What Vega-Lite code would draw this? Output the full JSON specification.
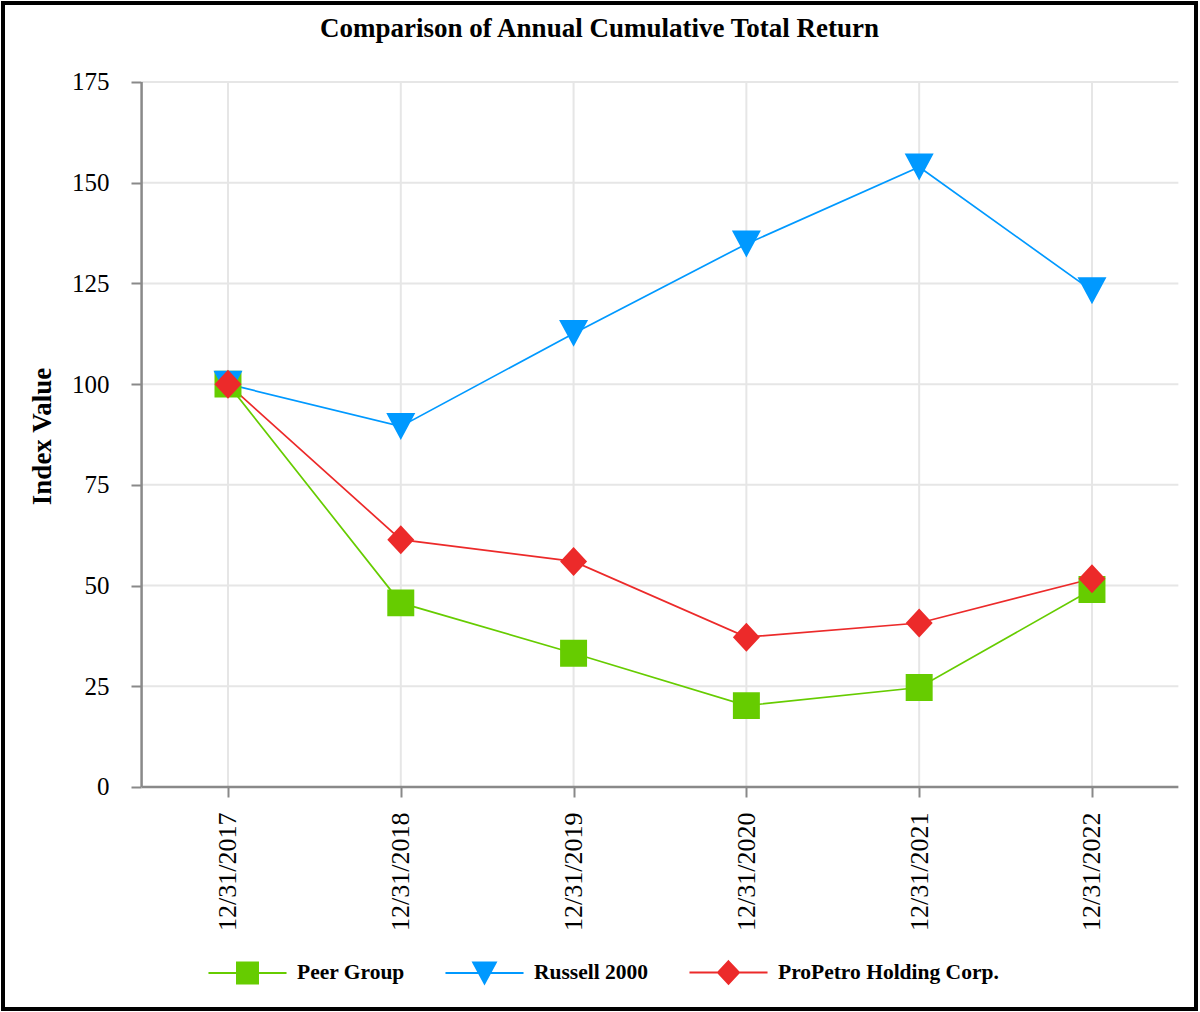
{
  "$schema": "https://vega.github.io/schema/vega-lite/v6.json",
  "width": 1193,
  "height": 1006,
  "autosize": {"type": "none"},
  "padding": {"left": 3, "top": 3, "right": 4, "bottom": 3},
  "background": "white",
  "config": {
    "view": {"stroke": "#000000", "strokeWidth": 4},
    "font": "Liberation Serif"
  },
  "title": {
    "text": "Comparison of Annual Cumulative Total Return",
    "font": "Liberation Serif",
    "fontSize": 27,
    "fontWeight": "bold",
    "color": "#000000",
    "anchor": "middle",
    "frame": "group",
    "baseline": "alphabetic",
    "offset": -36,
    "dy": 25
  },
  "datasets": {
    "returns": [
      {"series": "Peer Group", "year": 2017, "value": 100},
      {"series": "Peer Group", "year": 2018, "value": 45.7},
      {"series": "Peer Group", "year": 2019, "value": 33.2},
      {"series": "Peer Group", "year": 2020, "value": 20.2},
      {"series": "Peer Group", "year": 2021, "value": 24.7},
      {"series": "Peer Group", "year": 2022, "value": 49.0},
      {"series": "Russell 2000", "year": 2017, "value": 100},
      {"series": "Russell 2000", "year": 2018, "value": 89.5},
      {"series": "Russell 2000", "year": 2019, "value": 112.6},
      {"series": "Russell 2000", "year": 2020, "value": 134.8},
      {"series": "Russell 2000", "year": 2021, "value": 153.9},
      {"series": "Russell 2000", "year": 2022, "value": 123.2},
      {"series": "ProPetro Holding Corp.", "year": 2017, "value": 100},
      {"series": "ProPetro Holding Corp.", "year": 2018, "value": 61.4},
      {"series": "ProPetro Holding Corp.", "year": 2019, "value": 56.0},
      {"series": "ProPetro Holding Corp.", "year": 2020, "value": 37.2},
      {"series": "ProPetro Holding Corp.", "year": 2021, "value": 40.7},
      {"series": "ProPetro Holding Corp.", "year": 2022, "value": 51.7}
    ],
    "hgrid": [{"v": 25}, {"v": 50}, {"v": 75}, {"v": 100}, {"v": 125}, {"v": 150}, {"v": 175}],
    "vgrid": [{"year": 2017}, {"year": 2018}, {"year": 2019}, {"year": 2020}, {"year": 2021}, {"year": 2022}],
    "one": [{}]
  },
  "layer": [
    {
      "data": {"name": "hgrid"},
      "mark": {"type": "rule", "color": "#e6e6e6", "strokeWidth": 2},
      "encoding": {
        "y": {
          "field": "v", "type": "quantitative",
          "scale": {"domain": [-55.11, 194.61], "nice": false, "zero": false},
          "axis": {
            "values": [0, 25, 50, 75, 100, 125, 150, 175],
            "grid": false, "domain": false, "offset": -138,
            "tickSize": 10, "tickColor": "#898989", "tickWidth": 2,
            "labelFont": "Liberation Serif", "labelFontSize": 25, "labelColor": "#000000",
            "labelPadding": 22, "labelFlush": false, "labelOverlap": false,
            "title": "Index Value", "titleFont": "Liberation Serif", "titleFontSize": 27,
            "titleFontWeight": "bold", "titleColor": "#000000", "titleAngle": 270,
            "titleAlign": "center", "titleBaseline": "middle", "titleX": -99, "titleY": 433
          }
        },
        "x": {
          "datum": 2016.5, "type": "quantitative",
          "scale": {"domain": [2015.698, 2022.602], "nice": false, "zero": false},
          "axis": {
            "values": [2017, 2018, 2019, 2020, 2021, 2022],
            "grid": false, "domain": false, "offset": -222,
            "tickSize": 10, "tickColor": "#898989", "tickWidth": 2,
            "labelAngle": 270, "labelFont": "Liberation Serif", "labelFontSize": 26,
            "labelColor": "#000000", "labelPadding": 15, "labelFlush": false, "labelOverlap": false,
            "labelExpr": "'12/31/' + datum.value",
            "title": null
          }
        },
        "x2": {"datum": 2022.5}
      }
    },
    {
      "data": {"name": "vgrid"},
      "mark": {"type": "rule", "color": "#e6e6e6", "strokeWidth": 2},
      "encoding": {
        "x": {"field": "year", "type": "quantitative"},
        "y": {"datum": 0, "type": "quantitative"},
        "y2": {"datum": 175}
      }
    },
    {
      "data": {"name": "one"},
      "mark": {"type": "rule", "color": "#898989", "strokeWidth": 2.5},
      "encoding": {
        "x": {"datum": 2016.5, "type": "quantitative"},
        "y": {"datum": 0, "type": "quantitative"},
        "y2": {"datum": 175}
      }
    },
    {
      "data": {"name": "one"},
      "mark": {"type": "rule", "color": "#898989", "strokeWidth": 2.5},
      "encoding": {
        "y": {"datum": 0, "type": "quantitative"},
        "x": {"datum": 2016.5, "type": "quantitative"},
        "x2": {"datum": 2022.5}
      }
    },
    {
      "data": {"name": "returns"},
      "mark": {"type": "line", "strokeWidth": 1.7},
      "encoding": {
        "x": {"field": "year", "type": "quantitative"},
        "y": {"field": "value", "type": "quantitative"},
        "color": {
          "field": "series", "type": "nominal",
          "scale": {
            "domain": ["Peer Group", "Russell 2000", "ProPetro Holding Corp."],
            "range": ["#66CC00", "#0099FF", "#EC2A2A"]
          }
        }
      }
    },
    {
      "data": {"name": "returns"},
      "mark": {"type": "point", "filled": true, "opacity": 1, "size": 841},
      "encoding": {
        "x": {"field": "year", "type": "quantitative"},
        "y": {"field": "value", "type": "quantitative"},
        "shape": {
          "field": "series", "type": "nominal",
          "scale": {
            "domain": ["Peer Group", "Russell 2000", "ProPetro Holding Corp."],
            "range": [
              "M-3.46,0H3.46M-0.93,-0.93H0.93V0.93H-0.93Z",
              "M-3.46,0H3.46M-1,-0.93H1L0,0.93Z",
              "M-3.46,0H3.46M0,-1L0.93,0L0,1L-0.93,0Z"
            ]
          },
          "legend": null
        },
        "color": {
          "field": "series", "type": "nominal",
          "scale": {
            "domain": ["Peer Group", "Russell 2000", "ProPetro Holding Corp."],
            "range": ["#66CC00", "#0099FF", "#EC2A2A"]
          },
          "legend": {
            "title": null,
            "orient": "none",
            "legendX": 232,
            "legendY": 957,
            "direction": "horizontal",
            "columns": 3,
            "padding": 0,
            "symbolSize": 509,
            "symbolStrokeWidth": 2,
            "symbolOpacity": 1,
            "labelFont": "Liberation Serif",
            "labelFontSize": 21.5,
            "labelFontWeight": "bold",
            "labelColor": "#000000",
            "labelOffset": 37,
            "labelLimit": 500,
            "columnPadding": 36
          }
        }
      }
    }
  ]
}
